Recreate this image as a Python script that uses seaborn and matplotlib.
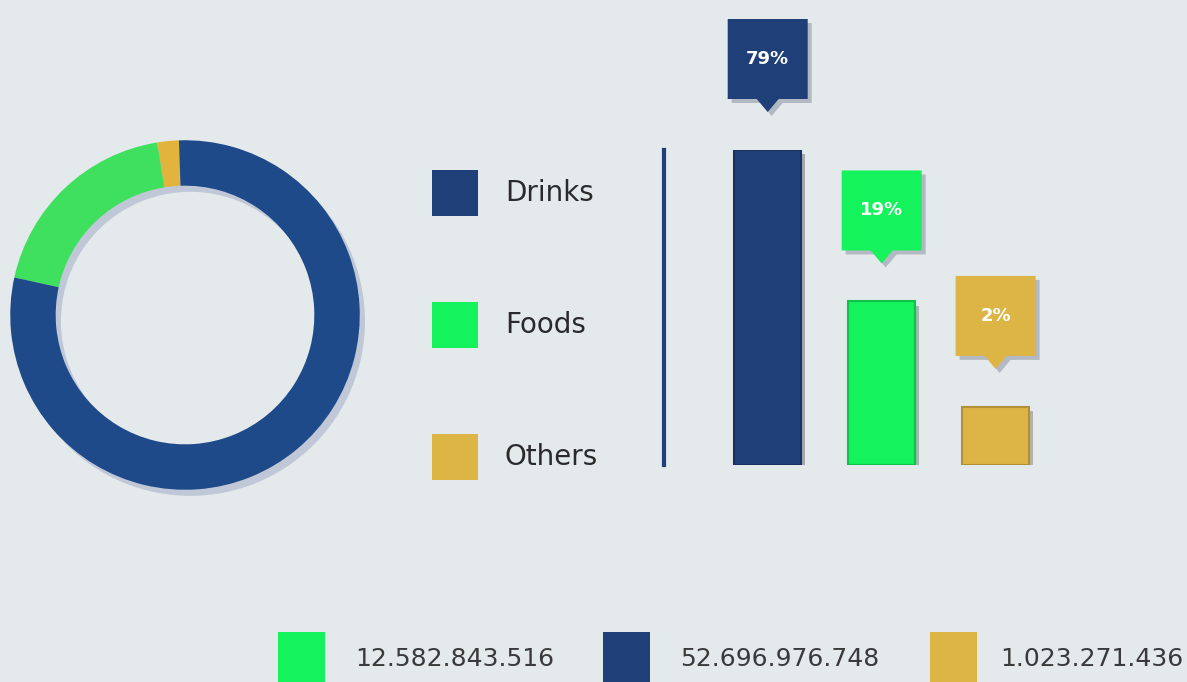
import numpy as np
import pandas as pd
import matplotlib
matplotlib.use("Agg")
import matplotlib.pyplot as plt
import seaborn as sns
from matplotlib.patches import Rectangle, Polygon
from matplotlib.offsetbox import DrawingArea, AnnotationBbox
from matplotlib.text import Text
import matplotlib.patheffects as pe

# ---------------- data ----------------
categories = ["Drinks", "Foods", "Others"]
shares = [79, 19, 2]
share_labels = ["79%", "19%", "2%"]
totals_categories = ["Foods", "Drinks", "Others"]
totals_labels = ["12.582.843.516", "52.696.976.748", "1.023.271.436"]

# ---------------- style ----------------
bar_colors = {"Drinks": "#1F3F78", "Foods": "#14F25C", "Others": "#DDB545"}
ring_colors = {"Drinks": "#1F4A8A", "Foods": "#3FE05E", "Others": "#E2B43C"}
BG = "#E4E9EC"
TEXT = "#2A2A2A"
W, H = 1187, 682
PT = 72 / 100  # points per pixel at dpi 100

sns.set_theme(style="white")
plt.rcParams["font.family"] = ["DejaVu Sans"]

fig = plt.figure(figsize=(W / 100, H / 100), dpi=100, facecolor=BG)


def px_axes(x0, y0, x1, y1):
    ax = fig.add_axes([x0 / W, 1 - y1 / H, (x1 - x0) / W, (y1 - y0) / H])
    ax.patch.set_alpha(0)
    return ax


# overlay axes in pixel coordinates for legends
ov = fig.add_axes([0, 0, 1, 1])
ov.set_xlim(0, W)
ov.set_ylim(H, 0)
ov.axis("off")
ov.patch.set_alpha(0)

# ---------------- donut ----------------
ax_pie = px_axes(5, 135, 365, 495)
ring_order = ["Others", "Foods", "Drinks"]
ring_vals = [shares[categories.index(c)] for c in ring_order]
# soft shadow ring
ax_pie.pie([1], radius=1.0, center=(0.03, -0.035), colors=["#7E8CB0"],
           wedgeprops=dict(width=0.26, edgecolor="none", alpha=0.35))
ax_pie.pie(ring_vals, radius=1.0, startangle=92, counterclock=True,
           colors=[ring_colors[c] for c in ring_order],
           wedgeprops=dict(width=0.26, edgecolor="none"))
ax_pie.set_xlim(-1.03, 1.03)
ax_pie.set_ylim(-1.03, 1.03)
ax_pie.set_aspect("equal")
ax_pie.axis("off")

# ---------------- middle legend ----------------
for cat, yc in zip(categories, [193, 325, 457]):
    ov.add_patch(Rectangle((432, yc - 23), 46, 46, facecolor=bar_colors[cat],
                           edgecolor="none"))
    ov.text(505, yc, cat, ha="left", va="center", fontsize=20, color=TEXT)

# ---------------- bars ----------------
ax_bar = px_axes(664, 150, 1064, 465)
df = pd.DataFrame({"category": categories, "share": shares})
sns.barplot(data=df, x="category", y="share", hue="category",
            palette=bar_colors, width=0.59, saturation=1, legend=False,
            ax=ax_bar)
EXP = 0.46
ax_bar.set_yscale("function",
                  functions=(lambda v: np.power(np.clip(v, 0, None), EXP),
                             lambda v: np.power(np.clip(v, 0, None), 1 / EXP)))
ax_bar.set_ylim(0, 79)
ax_bar.set_xlim(-0.91, 2.6)
for p in ax_bar.patches:
    fc = p.get_facecolor()
    p.set_edgecolor(tuple(np.array(fc[:3]) * 0.8) + (1,))
    p.set_linewidth(1.5)
    p.set_path_effects([pe.SimplePatchShadow(offset=(3, -3), alpha=0.3),
                        pe.Normal()])
for s in ["top", "right", "bottom"]:
    ax_bar.spines[s].set_visible(False)
ax_bar.spines["left"].set_color("#1F3F78")
ax_bar.spines["left"].set_linewidth(3)
ax_bar.set_xticks([])
ax_bar.set_yticks([])
ax_bar.set_xlabel("")
ax_bar.set_ylabel("")
ax_bar.minorticks_off()

# callouts
bw, bh, th, tw = 80, 80, 13, 22
for i, (cat, val, lab) in enumerate(zip(categories, shares, share_labels)):
    da = DrawingArea((bw + 6) * PT, (bh + th + 6) * PT, 0, 6 * PT)
    pts = np.array([(0, th), (bw / 2 - tw / 2, th), (bw / 2, 0),
                    (bw / 2 + tw / 2, th), (bw, th), (bw, th + bh),
                    (0, th + bh)]) * PT
    da.add_artist(Polygon(pts + np.array([4, -4]) * PT, closed=True,
                          facecolor="#5A6275", alpha=0.35, edgecolor="none"))
    da.add_artist(Polygon(pts, closed=True, facecolor=bar_colors[cat],
                          edgecolor="none"))
    da.add_artist(Text(bw / 2 * PT, (th + bh / 2) * PT, lab, ha="center",
                       va="center", color="white", fontsize=13,
                       fontweight="semibold"))
    ab = AnnotationBbox(da, (i, val), xybox=(3 * PT, 32 * PT),
                        xycoords="data", boxcoords="offset points",
                        box_alignment=(0.5, 0), frameon=False, pad=0,
                        annotation_clip=False)
    ax_bar.add_artist(ab)

# ---------------- bottom totals legend ----------------
for cat, lab, xs, xt in zip(totals_categories, totals_labels,
                            [278, 603, 930], [355, 680, 1000]):
    ov.add_patch(Rectangle((xs, 632), 47, 60, facecolor=bar_colors[cat],
                           edgecolor="none"))
    ov.text(xt, 659, lab, ha="left", va="center", fontsize=18, color="#3A3A3A")

fig.savefig("out.png", dpi=100, facecolor=BG)
